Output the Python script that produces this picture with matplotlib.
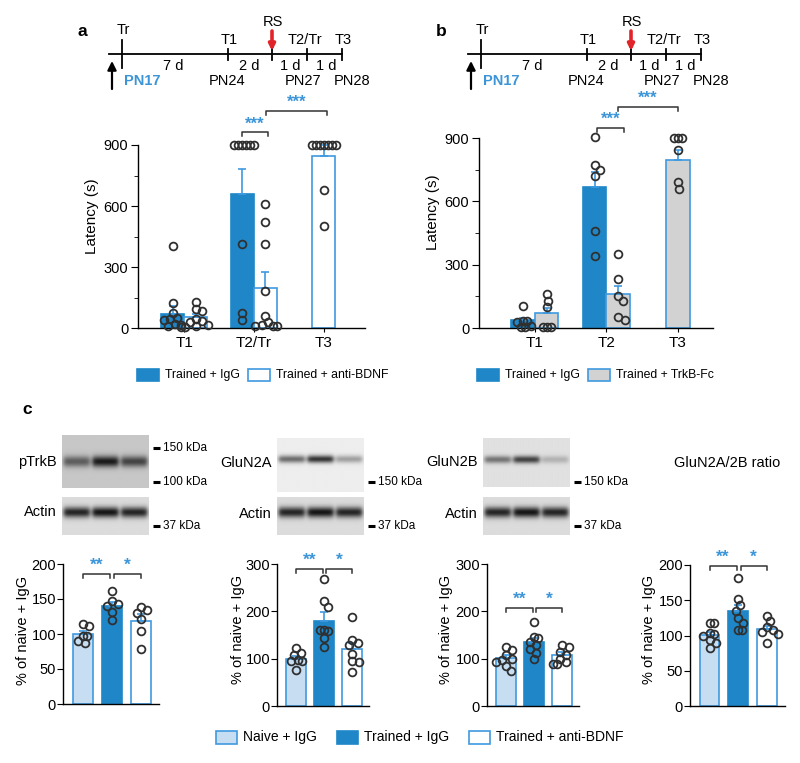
import matplotlib
matplotlib.use('Agg')
import matplotlib.pyplot as plt
from matplotlib.patches import Rectangle
import numpy as np

plt.rcParams['font.family'] = ['Liberation Sans', 'DejaVu Sans']
plt.rcParams['axes.linewidth'] = 1.0

W, H = 800, 763
BLUE = '#1f87c8'
EDGE = '#3f9ae0'
LIGHT = '#c6ddf2'
GREY = '#d2d2d2'
STAR = '#3b95d8'
DOT = '#303030'

# ---------------- data ----------------
tl_events = ['Tr', 'T1', 'RS', 'T2/Tr', 'T3']
tl_days = ['7 d', '2 d', '1 d', '1 d']
tl_pn = ['PN17', 'PN24', 'PN27', 'PN28']

# panel a (latency, s)
a_groups = ['T1', 'T2/Tr', 'T3']
a_igg_t1 = [405, 125, 75, 50, 45, 40, 20, 15, 10]
a_igg_t2 = [900, 900, 900, 900, 900, 900, 415, 75, 40]
a_anti_t1 = [130, 95, 85, 45, 35, 30, 15, 10, 5, 5]
a_anti_t2 = [610, 520, 415, 180, 60, 30, 15, 10, 10, 10]
a_anti_t3 = [900, 900, 900, 900, 900, 900, 900, 680, 500]
a_igg_mean = [68, 659]
a_igg_sem = [40, 123]
a_anti_mean = [54, 197, 846]
a_anti_sem = [16, 78, 54]

# panel b (latency, s)
b_groups = ['T1', 'T2', 'T3']
b_igg_t1 = [105, 35, 35, 30, 10, 5, 5]
b_igg_t2 = [905, 770, 750, 720, 460, 340]
b_fc_t1 = [160, 130, 100, 5, 5, 5]
b_fc_t2 = [350, 230, 150, 130, 50, 40]
b_fc_t3 = [900, 900, 900, 845, 690, 660]
b_igg_mean = [38, 668]
b_igg_sem = [9, 71]
b_fc_mean = [71, 161, 796]
b_fc_sem = [24, 38, 47]

# panel c (% of naive + IgG) : naive, trained, anti-BDNF
c_titles = ['pTrkB', 'GluN2A', 'GluN2B', 'GluN2A/2B ratio']
c_means = [[100, 140, 118], [100, 180, 120], [102, 135, 108], [101, 135, 109]]
c_sems = [[5, 6, 10], [6, 18, 14], [6, 9, 6], [4, 8, 4]]
c_points = [
    [[115, 112, 97, 97, 90, 87], [162, 147, 143, 140, 132, 120], [138, 135, 130, 122, 105, 78]],
    [[122, 112, 108, 97, 96, 95, 76], [268, 222, 210, 160, 158, 160, 143, 125], [188, 140, 133, 128, 110, 96, 92, 71]],
    [[125, 118, 108, 100, 98, 92, 85, 75], [178, 145, 143, 135, 128, 120, 113, 100], [128, 125, 115, 108, 100, 93, 88, 88]],
    [[118, 118, 103, 102, 100, 93, 90, 82], [182, 152, 143, 135, 125, 118, 108, 108], [128, 120, 112, 108, 105, 102, 90]],
]
c_stars = ['**', '*']

# western blot band strengths per lane (naive, trained, anti-BDNF)
blot_bands = {'pTrkB': [0.42, 0.68, 0.52], 'GluN2A': [0.5, 0.72, 0.3], 'GluN2B': [0.42, 0.62, 0.18]}
actin_bands = [0.72, 0.78, 0.72]


def rect(x0, y0, x1, y1):
    return [x0 / W, 1 - y1 / H, (x1 - x0) / W, (y1 - y0) / H]


fig = plt.figure(figsize=(W / 100, H / 100), dpi=100)

ov = fig.add_axes([0, 0, 1, 1])
ov.set_xlim(0, W)
ov.set_ylim(H, 0)
ov.axis('off')


def swarm(ax, xc, vals, d=6.5, d_same=4.0):
    # greedy beeswarm in pixel space; equal values pack tighter like the original
    tr = ax.transData
    x0 = tr.transform((xc, 0))[0]
    placed = []
    xs = []
    for v in vals:
        yp = tr.transform((xc, v))[1]
        cands = [0.0]
        for j in range(1, 200):
            cands += [0.5 * j, -0.5 * j]
        for off in cands:
            ok = True
            for px, py in placed:
                lim = d_same if abs(yp - py) < 1 else d
                if (off - px) ** 2 + (yp - py) ** 2 < lim * lim:
                    ok = False
                    break
            if ok:
                break
        placed.append((off, yp))
        xs.append(tr.inverted().transform((x0 + off, yp))[0])
    return xs


def bar_group(ax, x, mean, sem, pts, face, width, size=5.6):
    ax.bar(x, mean, width=width, color=face, edgecolor=EDGE if face != BLUE else BLUE,
           linewidth=1.2, zorder=2)
    ax.errorbar(x, mean, yerr=[[0], [sem]], fmt='none', ecolor=EDGE, elinewidth=1.2,
                capsize=3, capthick=1.2, zorder=3)
    xs = swarm(ax, x, pts)
    ax.plot(xs, pts, 'o', ms=size, mfc='none', mec=DOT, mew=1.3, zorder=4, clip_on=False)


def bracket(ax, x1, x2, y, leg, text, fs=11):
    ax.plot([x1, x1, x2, x2], [y - leg, y, y, y - leg], color='#333333', lw=1.1, clip_on=False)
    ax.text((x1 + x2) / 2, y + leg * 0.3, text, color=STAR, ha='center', va='bottom',
            fontsize=fs, fontweight='bold', clip_on=False)


def style_latency(ax, groups):
    for s in ['top', 'right']:
        ax.spines[s].set_visible(False)
    ax.spines['left'].set_bounds(0, 900)
    ax.set_ylim(0, 1100)
    ax.set_yticks([0, 300, 600, 900])
    ax.set_yticks([150, 450, 750], minor=True)
    ax.tick_params(axis='y', which='major', length=5, labelsize=10.5, pad=2)
    ax.tick_params(axis='y', which='minor', length=3)
    ax.set_xticks([0, 1, 2])
    ax.set_xticklabels(groups)
    ax.tick_params(axis='x', length=3, labelsize=11, pad=3)
    ax.set_ylabel('Latency (s)', fontsize=11, labelpad=3)
    ax.patch.set_alpha(0)


def timeline(dx, label):
    ov.text(82 + dx, 32, label, fontsize=12.5, fontweight='bold', ha='center', va='center')
    ov.plot([109 + dx, 342 + dx], [54, 54], color='black', lw=1.3)
    ov.plot([122 + dx, 122 + dx], [40, 68], color='black', lw=1.3)
    for tx in [228, 272, 307, 342]:
        ov.plot([tx + dx, tx + dx], [49, 60], color='black', lw=1.3)
    ev_pos = [(123, 30), (229, 40), (273, 22), (305, 40), (343, 40)]
    for name, (ex, ey) in zip(tl_events, ev_pos):
        ov.text(ex + dx, ey, name, fontsize=10.5, ha='center', va='center')
    ov.annotate('', xy=(272 + dx, 51), xytext=(272 + dx, 31),
                arrowprops=dict(arrowstyle='-|>', color='#e0242a', lw=2.6, mutation_scale=9,
                                shrinkA=0, shrinkB=0))
    for txt, xx in zip(tl_days, [173, 249, 290, 326]):
        ov.text(xx + dx, 66, txt, fontsize=10.5, ha='center', va='center')
    ov.text(124 + dx, 81, tl_pn[0], fontsize=10.5, fontweight='bold', color=STAR, ha='left', va='center')
    for txt, xx in zip(tl_pn[1:], [227, 303, 352]):
        ov.text(xx + dx, 81, txt, fontsize=10.5, ha='center', va='center')
    ov.annotate('', xy=(112 + dx, 61), xytext=(112 + dx, 89),
                arrowprops=dict(arrowstyle='-|>', color='black', lw=1.6, mutation_scale=13,
                                shrinkA=0, shrinkB=0))


timeline(0, 'a')
timeline(359, 'b')

# ---------------- panel a ----------------
axa = fig.add_axes(rect(138, 328 - 1100 * 183 / 900, 365, 328))
axa.set_xlim(-0.66, 2.59)
style_latency(axa, a_groups)
w = 0.33
bar_group(axa, 0 - w / 2, a_igg_mean[0], a_igg_sem[0], a_igg_t1, BLUE, w)
bar_group(axa, 0 + w / 2, a_anti_mean[0], a_anti_sem[0], a_anti_t1, 'white', w)
bar_group(axa, 1 - w / 2, a_igg_mean[1], a_igg_sem[1], a_igg_t2, BLUE, w)
bar_group(axa, 1 + w / 2, a_anti_mean[1], a_anti_sem[1], a_anti_t2, 'white', w)
bar_group(axa, 2, a_anti_mean[2], a_anti_sem[2], a_anti_t3, 'white', w)
bracket(axa, 0.83, 1.2, 962, 18, '***', fs=12)
bracket(axa, 1.17, 2.05, 1067, 18, '***', fs=12)

# ---------------- panel b ----------------
axb = fig.add_axes(rect(479, 328 - 1100 * 190 / 900, 713, 328))
axb.set_xlim(-0.78, 2.49)
style_latency(axb, b_groups)
w = 0.33
bar_group(axb, 0 - w / 2, b_igg_mean[0], b_igg_sem[0], b_igg_t1, BLUE, w)
bar_group(axb, 0 + w / 2, b_fc_mean[0], b_fc_sem[0], b_fc_t1, GREY, w)
bar_group(axb, 1 - w / 2, b_igg_mean[1], b_igg_sem[1], b_igg_t2, BLUE, w)
bar_group(axb, 1 + w / 2, b_fc_mean[1], b_fc_sem[1], b_fc_t2, GREY, w)
bar_group(axb, 2, b_fc_mean[2], b_fc_sem[2], b_fc_t3, GREY, w)
bracket(axb, 0.87, 1.24, 947, 18, '***', fs=12)
bracket(axb, 1.16, 2.0, 1047, 18, '***', fs=12)


# legends: squares and labels chained left to right
def legend_row(x, y, items, fs, wd, ht, gap):
    fig.canvas.draw()
    rend = fig.canvas.get_renderer()
    for face, edge, text in items:
        ov.add_patch(Rectangle((x, y - ht / 2), wd, ht, facecolor=face, edgecolor=edge, lw=1.2))
        t = ov.text(x + wd + 6, y, text, fontsize=fs, va='center', ha='left')
        x = t.get_window_extent(rend).x1 + gap


legend_row(137, 375, [(BLUE, BLUE, 'Trained + IgG'), ('white', EDGE, 'Trained + anti-BDNF')],
           8.8, 22, 12, 8)
legend_row(477, 375, [(BLUE, BLUE, 'Trained + IgG'), (GREY, EDGE, 'Trained + TrkB-Fc')],
           8.8, 22, 12, 8)

# ---------------- panel c blots ----------------
ov.text(27, 410, 'c', fontsize=12.5, fontweight='bold', ha='center', va='center')


def blot_img(bands, bg, ypos, sigma):
    h, wd = 50, 120
    yy = np.linspace(0, 1, h)[:, None]
    xx = np.linspace(0, 1, wd)[None, :]
    img = np.full((h, wd), bg)
    for i, b in enumerate(bands):
        cx = (i + 0.5) / 3
        px = 1 / (1 + np.exp(-(xx - (cx - 0.15)) * 70)) / (1 + np.exp((xx - (cx + 0.15)) * 70))
        py = np.exp(-((yy - ypos) / sigma) ** 2 / 2)
        img = img - b * px * py
    return np.clip(img, 0, 1)


def draw_blot(box, img):
    bx = fig.add_axes(rect(*box))
    bx.imshow(img, cmap='gray', vmin=0, vmax=1, aspect='auto', interpolation='bilinear')
    bx.axis('off')


def kda(x, y, text):
    ov.plot([x, x + 7], [y, y], color='black', lw=2.2, solid_capstyle='butt')
    ov.text(x + 10, y, text, fontsize=8.5, va='center', ha='left')


blots = [('pTrkB', 62, 149, (435, 488), 0.5, 0.78, 0.075, 462, 512),
         ('GluN2A', 277, 364, (438, 492), 0.4, 0.93, 0.05, 463, 514),
         ('GluN2B', 483, 570, (438, 487), 0.45, 0.88, 0.055, 462, 514)]
for name, x0, x1, (y0, y1), ypos, bg, sg, ly, aly in blots:
    draw_blot((x0, y0, x1, y1), blot_img(blot_bands[name], bg, ypos, sg))
    draw_blot((x0, 497, x1, 535), blot_img(actin_bands, 0.86, 0.4, 0.1))
    ov.text(x0 - 5, ly, name, fontsize=10.5, ha='right', va='center')
    ov.text(x0 - 5, aly, 'Actin', fontsize=10.5, ha='right', va='center')
    if name == 'pTrkB':
        kda(x1 + 4, 448, '150 kDa')
        kda(x1 + 4, 482, '100 kDa')
    else:
        kda(x1 + 4, 482, '150 kDa')
    kda(x1 + 4, 526, '37 kDa')
ov.text(727, 463, c_titles[3], fontsize=10.5, ha='center', va='center')

# ---------------- panel c bars ----------------
c_layout = [(63, 704, 0.70, 215, 29, [0, 50, 100, 150, 200], 200, 23),
            (277, 706, 0.473, 320, 28, [0, 100, 200, 300], 300, 238),
            (487, 706, 0.473, 320, 28, [0, 100, 200, 300], 300, 446),
            (690, 706, 0.705, 215, 28.7, [0, 50, 100, 150, 200], 200, 649)]
c_bracket_y = [186, 290, 208, 198]
c_faces = [LIGHT, BLUE, 'white']
for k, (left, y0, scale, ytop, sp, ticks, top, ylx) in enumerate(c_layout):
    x_lo, x_hi = -0.68, 2.62
    ax = fig.add_axes(rect(left, y0 - ytop * scale, left + (x_hi - x_lo) * sp, y0))
    ax.set_xlim(x_lo, x_hi)
    ax.set_ylim(0, ytop)
    for s in ['top', 'right']:
        ax.spines[s].set_visible(False)
    ax.spines['left'].set_bounds(0, top)
    ax.set_yticks(ticks)
    ax.set_xticks([])
    ax.tick_params(axis='y', length=4, labelsize=10.5, pad=1)
    ax.patch.set_alpha(0)
    for i in range(3):
        bar_group(ax, i, c_means[k][i], c_sems[k][i], c_points[k][i], c_faces[i], 0.69, size=5.6)
    by = c_bracket_y[k]
    leg = 4 / scale
    bracket(ax, 0.0, 0.95, by, leg, c_stars[0], fs=12.5)
    bracket(ax, 1.08, 2.0, by, leg, c_stars[1], fs=12.5)
    ov.text(ylx, 705 - top * scale / 2 - 5, '% of naive + IgG', rotation=90, fontsize=10.5,
            ha='center', va='center')

legend_row(216, 737, [(LIGHT, EDGE, 'Naive + IgG'), (BLUE, BLUE, 'Trained + IgG'),
                      ('white', EDGE, 'Trained + anti-BDNF')], 10, 21, 13, 20)

fig.savefig('out.png', dpi=100)
